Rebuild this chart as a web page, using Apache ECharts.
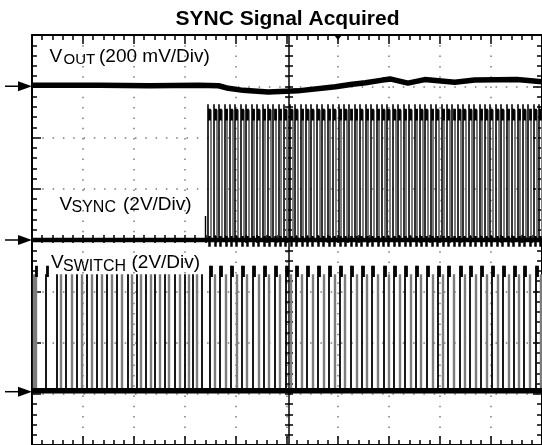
<!DOCTYPE html>
<html>
<head>
<meta charset="utf-8">
<script src="https://cdn.jsdelivr.net/npm/echarts@6/dist/echarts.min.js"></script>
<style>
html, body { margin: 0; padding: 0; background: #fff; }
#chart { width: 542px; height: 445px; }
</style>
</head>
<body>
<div id="chart"></div>
<script>
// all values in scope divisions: x 0..10, y -4..4 (0 = centre graticule line)
const voutX = [0, 1.32, 2.30, 3.27, 3.66, 3.85, 4.14, 4.63, 5.21, 5.95, 6.28, 6.54, 6.87, 7.04, 7.37, 7.70, 8.29, 8.68, 9.51, 10]
const voutY = [3.02, 3.02, 3.01, 3.02, 3.01, 2.96, 2.92, 2.89, 2.91, 2.99, 3.04, 3.07, 3.12, 3.14, 3.06, 3.13, 3.08, 3.12, 3.13, 3.09]

// VSYNC: rising edges once the sync signal arrives
const syncRise = [3.45, 3.56, 3.66, 3.77, 3.88, 3.98, 4.09, 4.20, 4.30, 4.41, 4.52, 4.62, 4.73, 4.83, 4.94, 5.05,
  5.15, 5.26, 5.37, 5.47, 5.58, 5.69, 5.79, 5.90, 6.01, 6.11, 6.22, 6.32, 6.43, 6.54, 6.64, 6.75, 6.86, 6.96,
  7.07, 7.18, 7.28, 7.39, 7.50, 7.60, 7.71, 7.81, 7.92, 8.03, 8.13, 8.24, 8.35, 8.45, 8.56, 8.67, 8.77, 8.88,
  8.98, 9.09, 9.20, 9.30, 9.41, 9.52, 9.62, 9.73, 9.84, 9.94]
const syncWidth = 0.053
const syncLevels = { low: 0, high: 2.65, fallTop: 2.54, headLo: 2.33, headHi: 2.56 }
const syncGlitch = { x: 3.39, y: 0.47 }

// VSWITCH: edges drawn black (bright) and grey (faint persistence)
const swBlackLeft = [0.27, 0.48, 0.67, 0.88, 1.08, 1.27, 1.47, 1.66, 1.87, 2.05, 2.23, 2.41, 2.60, 2.79, 3.00, 3.15, 3.33]
const swGreyLeft = [0.03, 0.07, 0.57, 0.78, 0.97, 1.18, 1.37, 1.57, 1.76, 1.96, 2.14, 2.32, 2.51, 2.69, 2.90, 3.07, 3.24]
const swBlackRight = [3.48, 3.69, 3.90, 4.11, 4.33, 4.54, 4.75, 4.97, 5.18, 5.39, 5.61, 5.82, 6.03, 6.25, 6.46, 6.67,
  6.89, 7.10, 7.31, 7.52, 7.74, 7.95, 8.16, 8.38, 8.59, 8.80, 9.02, 9.23, 9.44, 9.65, 9.87]
const swGreyRight = [3.59, 3.80, 4.01, 4.22, 4.44, 4.65, 4.86, 5.08, 5.29, 5.50, 5.72, 5.93, 6.14, 6.36, 6.57, 6.78,
  7.00, 7.21, 7.42, 7.63, 7.85, 8.06, 8.27, 8.49, 8.70, 8.91, 9.13, 9.34, 9.55, 9.76, 9.98]
const swHeadLeft = [0.06, 0.27]
const swLevels = { low: -2.94, high: -0.67, headLo: -0.72, headHi: -0.5 }

const groundLevels = [3, 0, -2.96]
const triggerAt = 6

const FONT = '"Liberation Sans", Arial, sans-serif'

function vlines(xs, y0, y1, dx) {
  return xs.map(x => ({ coords: [[x + (dx || 0), y0], [x + (dx || 0), y1]] }))
}

function edgeSeries(data, color, width) {
  return {
    type: 'lines',
    coordinateSystem: 'cartesian2d',
    xAxisIndex: 0,
    yAxisIndex: 0,
    polyline: false,
    silent: true,
    animation: false,
    lineStyle: { color: color, width: width, opacity: 1, curveness: 0 },
    data: data
  }
}

function flatSeries(x0, x1, y, width) {
  return {
    type: 'line',
    xAxisIndex: 0,
    yAxisIndex: 0,
    symbol: 'none',
    silent: true,
    animation: false,
    lineStyle: { color: '#000', width: width },
    data: [[x0, y], [x1, y]]
  }
}

function axis(dim, pos, opts) {
  const range = dim === 'x' ? { min: 0, max: 10 } : { min: -4, max: 4 }
  return Object.assign({
    type: 'value',
    position: pos,
    min: range.min,
    max: range.max,
    interval: 1,
    axisLabel: { show: false },
    splitLine: { show: false },
    axisLine: { show: true, onZero: false, lineStyle: { color: '#000', width: 2 } },
    axisTick: { show: true, inside: true, length: 9, lineStyle: { color: '#000', width: 1.5 } },
    minorTick: { show: true, splitNumber: 5, length: 5, lineStyle: { color: '#000', width: 1.5 } }
  }, opts || {})
}

const dotted = { show: true, lineStyle: { color: '#7a7a7a', width: 1.5, type: [1.5, 8.8] } }
const centreTick = (inside, line) => ({
  offset: 0,
  axisLine: { show: line, onZero: false, lineStyle: { color: '#000', width: 1.5 } },
  axisTick: { show: true, inside: inside, length: 4, lineStyle: { color: '#000', width: 1.5 } },
  minorTick: { show: true, splitNumber: 5, length: 4, lineStyle: { color: '#000', width: 1.5 } }
})

const chart = echarts.init(document.getElementById('chart'))
chart.setOption({
  backgroundColor: '#fff',
  animation: false,
  grid: { left: 32, top: 35, width: 514, height: 412 },
  xAxis: [
    axis('x', 'bottom', { splitLine: dotted }),
    axis('x', 'top'),
    axis('x', 'bottom', Object.assign(centreTick(true, true), { offset: -206 })),
    axis('x', 'bottom', Object.assign(centreTick(false, false), { offset: -206 }))
  ],
  yAxis: [
    axis('y', 'left', { splitLine: dotted }),
    axis('y', 'right'),
    axis('y', 'left', Object.assign(centreTick(true, true), { offset: -257 })),
    axis('y', 'left', Object.assign(centreTick(false, false), { offset: -257 }))
  ],
  series: [
    // VSYNC
    flatSeries(0, 10, syncLevels.low, 4.5),
    edgeSeries(vlines(syncRise, syncLevels.low, syncLevels.fallTop, syncWidth), '#7c7c7c', 2),
    edgeSeries(vlines(syncRise, syncLevels.low, syncLevels.high), '#000', 1.6),
    edgeSeries(vlines(syncRise, syncLevels.headLo, syncLevels.headHi, 0.03), '#000', 2.8),
    edgeSeries(vlines(syncRise, -0.13, 0.08, 0.03), '#000', 2.5),
    edgeSeries([{ coords: [[syncGlitch.x, syncLevels.low], [syncGlitch.x, syncGlitch.y]] }], '#000', 1.4),
    // VSWITCH
    flatSeries(0, 10, swLevels.low, 5.5),
    edgeSeries(vlines(swGreyLeft.concat(swGreyRight), swLevels.low, swLevels.high), '#7c7c7c', 2.4),
    edgeSeries(vlines(swBlackLeft, swLevels.low, swLevels.high), '#000', 1.8),
    edgeSeries(vlines(swBlackRight, swLevels.low, swLevels.headHi), '#000', 1.8),
    edgeSeries(vlines(swBlackRight.concat(swHeadLeft), swLevels.headLo, swLevels.headHi, 0.03), '#000', 2.8),
    // VOUT
    {
      type: 'line',
      xAxisIndex: 0,
      yAxisIndex: 0,
      symbol: 'none',
      silent: true,
      animation: false,
      lineStyle: { color: '#000', width: 5.5 },
      data: voutX.map((x, i) => [x, voutY[i]])
    }
  ]
})

function px(x, y) {
  return chart.convertToPixel({ xAxisIndex: 0, yAxisIndex: 0 }, [x, y])
}

const graphics = []
groundLevels.forEach(level => {
  const y = px(0, level)[1]
  graphics.push({ type: 'line', shape: { x1: 5, y1: y, x2: 21, y2: y }, style: { stroke: '#000', lineWidth: 1.5 } })
  graphics.push({ type: 'polygon', shape: { points: [[18, y - 5], [32, y], [18, y + 5]] }, style: { fill: '#000' } })
})
const tx = px(triggerAt, 4)[0]
graphics.push({ type: 'polygon', shape: { points: [[tx - 4, 35], [tx + 4, 35], [tx, 40]] }, style: { fill: '#000' } })

function label(text, x, y, size, weight, align) {
  return {
    type: 'text', x: x, y: y, z: 100,
    style: { text: text, fontSize: size, fontWeight: weight || 'normal', fontFamily: FONT, fill: '#000', align: align || 'left', verticalAlign: 'middle' }
  }
}
graphics.push(
  label('SYNC Signal Acquired', 287.5, 19, 21, 'bold', 'center'),
  label('V', 49.5, 56.7, 19), label('OUT', 63.5, 60.3, 15), label('(200 mV/Div)', 99, 56.7, 19),
  label('V', 59.5, 204.4, 19), label('SYNC', 71.5, 207.8, 16), label('(2V/Div)', 123, 204.4, 19),
  label('V', 51, 262.7, 19), label('SWITCH', 63, 266.2, 16), label('(2V/Div)', 131.5, 262.7, 19)
)
chart.setOption({ graphic: graphics })
</script>
</body>
</html>
